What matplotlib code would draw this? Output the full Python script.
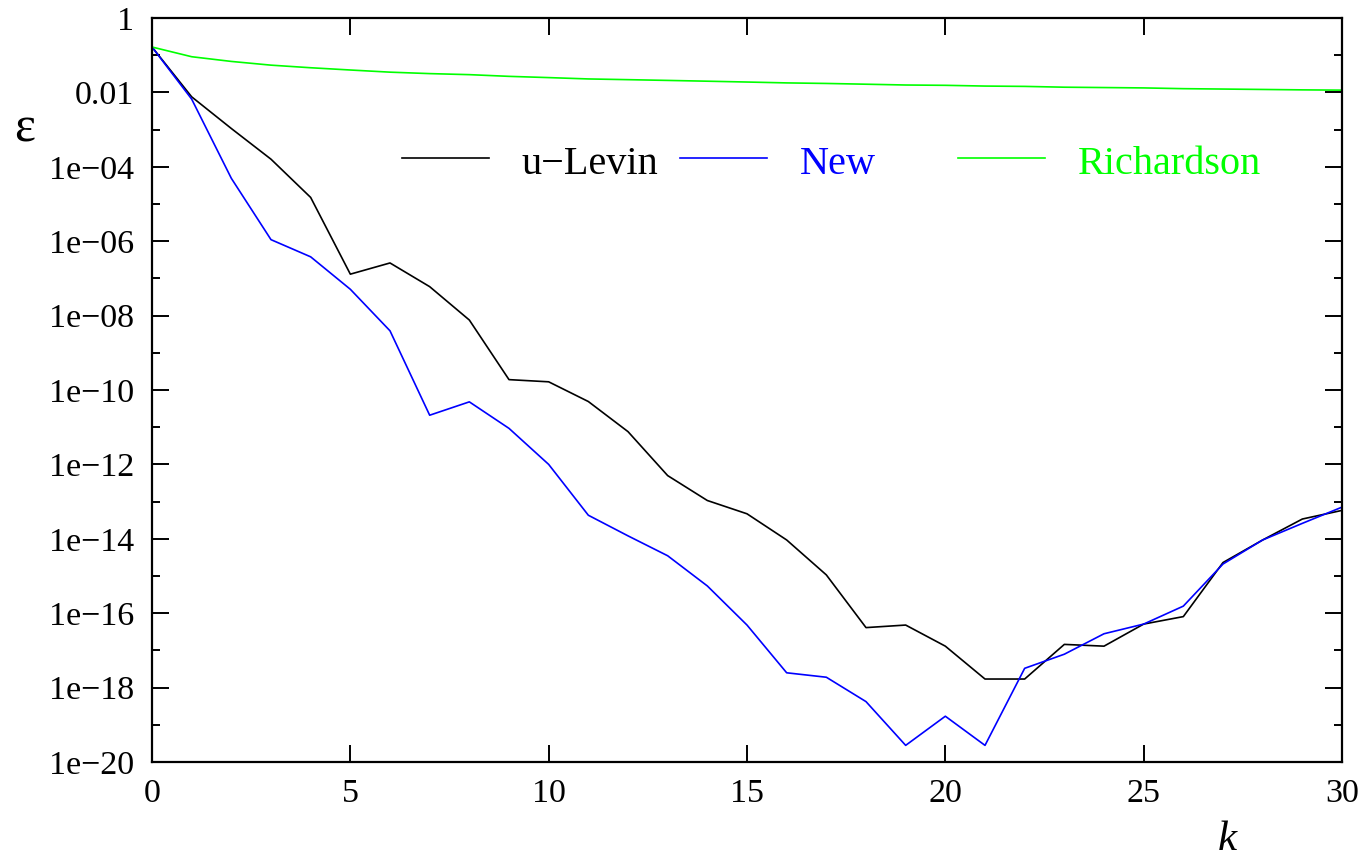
import numpy as np
import matplotlib
matplotlib.use('Agg')
import matplotlib.pyplot as plt
from matplotlib.ticker import FixedLocator, NullFormatter

plt.rcParams['font.family'] = ['Liberation Serif', 'DejaVu Serif']

# data (error eps vs k)
k = list(range(31))
u_levin = [1.66e-1, 7.6e-3, 1.07e-3, 1.6e-4, 1.5e-5, 1.3e-7, 2.6e-7, 6.0e-8, 7.6e-9, 1.9e-10,
           1.66e-10, 4.9e-11, 7.6e-12, 5.0e-13, 1.07e-13, 4.7e-14, 9.3e-15, 1.07e-15, 4.1e-17, 4.8e-17,
           1.3e-17, 1.7e-18, 1.7e-18, 1.45e-17, 1.3e-17, 5.1e-17, 8.1e-17, 2.3e-15, 9.3e-15, 3.4e-14,
           5.8e-14]
new = [1.66e-1, 6.6e-3, 4.9e-5, 1.1e-6, 3.8e-7, 5.1e-8, 3.9e-9, 2.1e-11, 4.8e-11, 9.3e-12,
       1.0e-12, 4.3e-14, 1.2e-14, 3.5e-15, 5.4e-16, 4.8e-17, 2.5e-18, 1.9e-18, 4.2e-19, 2.8e-20,
       1.7e-19, 2.8e-20, 3.3e-18, 7.9e-18, 2.8e-17, 5.1e-17, 1.55e-16, 2.1e-15, 9.3e-15, 2.6e-14,
       7.1e-14]
richardson = [0.166, 0.091, 0.068, 0.054, 0.046, 0.040, 0.035, 0.032, 0.030, 0.027,
              0.025, 0.023, 0.022, 0.021, 0.020, 0.019, 0.018, 0.0174, 0.0166, 0.0158,
              0.0155, 0.0148, 0.0145, 0.0138, 0.0135, 0.0132, 0.0126, 0.0123, 0.0120, 0.0117,
              0.0115]

labels = ['u\u2212Levin', 'New', 'Richardson']
colors = ['#000000', '#0000ff', '#00ff00']

ytick_vals = [10.0 ** (-e) for e in range(0, 21, 2)]
ytick_labels = ['1', '0.01'] + ['1e\u2212%02d' % e for e in range(4, 21, 2)]
yminor_vals = [10.0 ** (-e) for e in range(1, 20, 2)]

fig = plt.figure(figsize=(13.69, 8.58), dpi=100)
ax = fig.add_axes([152 / 1369, 1 - 762 / 858, 1190 / 1369, 744 / 858])

series = [u_levin, new, richardson]
for s, c in zip(series, colors):
    ax.plot(k, s, color=c, lw=1.2)

ax.set_yscale('log')
ax.set_xlim(0, 30)
ax.set_ylim(1e-20, 1)
ax.set_xticks([0, 5, 10, 15, 20, 25, 30])
ax.yaxis.set_major_locator(FixedLocator(ytick_vals))
ax.set_yticklabels(ytick_labels)
ax.yaxis.set_minor_locator(FixedLocator(yminor_vals))
ax.yaxis.set_minor_formatter(NullFormatter())

ax.tick_params(which='both', direction='in', top=True, right=True, width=1.4, labelsize=24.5)
ax.tick_params(which='major', length=12)
ax.tick_params(which='minor', length=6)
ax.tick_params(axis='y', pad=13)
ax.tick_params(axis='x', pad=12)
for sp in ax.spines.values():
    sp.set_linewidth(1.6)

# gnuplot style key: sample line then coloured text
key_x = [0.2101, 0.4437, 0.6773]
for x0, lab, c in zip(key_x, labels, colors):
    ax.plot([x0, x0 + 0.073], [0.8125, 0.8125], color=c, lw=1.2, transform=ax.transAxes)
    ax.text(x0 + 0.1005, 0.7903, lab, color=c, fontsize=29, va='baseline', ha='left',
            transform=ax.transAxes)

fig.text(25 / 1369, 1 - 129 / 858, '\u03b5', fontsize=36, ha='center', va='center')
fig.text(1227 / 1369, 1 - 840 / 858, 'k', fontsize=31, style='italic', ha='center', va='center')

fig.savefig('out.png', dpi=100)
